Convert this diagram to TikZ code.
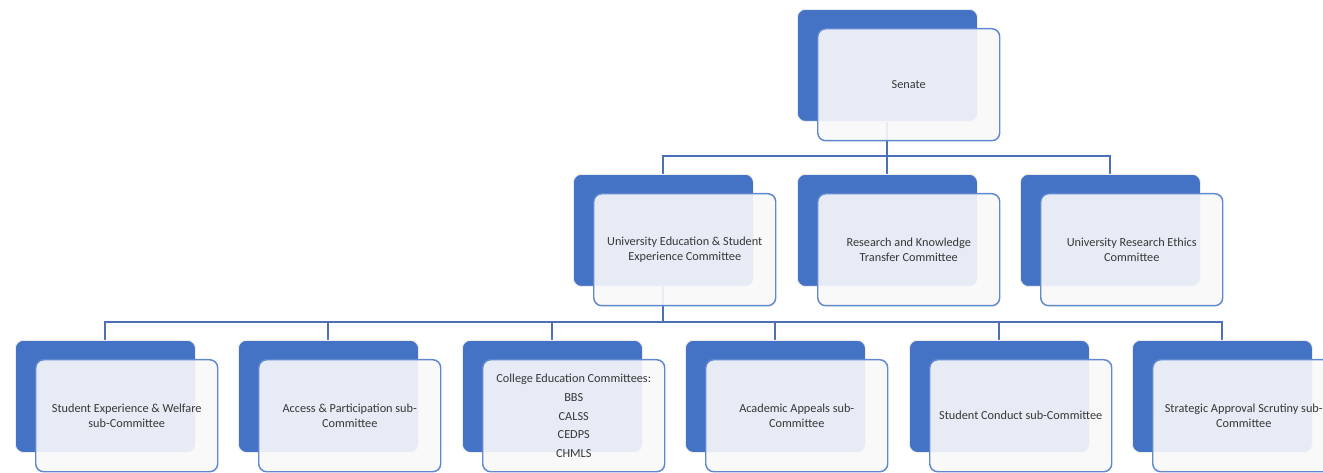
\documentclass[tikz,border=0pt]{standalone}
\usepackage{fontspec}
\setmainfont{Carlito}
\usetikzlibrary{backgrounds}

\definecolor{officeblue}{RGB}{68,114,196}
\definecolor{edgeblue}{RGB}{96,136,206}
\definecolor{lineblue}{RGB}{76,112,184}
\definecolor{paper}{RGB}{248,248,250}
\definecolor{inktext}{RGB}{55,55,55}

\begin{document}
\begin{tikzpicture}[x=0.75pt, y=-0.75pt,
  backbox/.style={anchor=north west, rectangle, rounded corners=6pt,
    fill=officeblue, draw=gray!15, line width=0.6pt,
    minimum width=135pt, minimum height=84pt, inner sep=0pt},
  frontbox/.style={anchor=north west, rectangle, rounded corners=6pt,
    fill=paper, fill opacity=0.91, text opacity=1, draw=edgeblue, line width=1.1pt,
    minimum width=136.5pt, minimum height=84pt, inner sep=2pt, align=center,
    text=inktext, font=\fontsize{9.2}{11.25}\selectfont},
  conn/.style={draw=lineblue, line width=1.4pt}]
  % page
  \useasboundingbox (0,0) rectangle (1323,473);
  % level 1
  \node[backbox] (senateback) at (797,9) {};
  \node[frontbox] (senate) at (817,28) {Senate};
  % level 2
  \node[backbox] (uesecback) at (573,174) {};
  \node[frontbox] (uesec) at (593,193) {University Education \& Student\\Experience Committee};
  \node[backbox] (rktcback) at (797,174) {};
  \node[frontbox] (rktc) at (817,193) {Research and Knowledge\\Transfer Committee};
  \node[backbox] (urecback) at (1020,174) {};
  \node[frontbox] (urec) at (1040,193) {University Research Ethics\\Committee};
  % level 3
  \node[backbox] (sewback) at (15,340) {};
  \node[frontbox] (sew) at (35,359) {Student Experience \& Welfare\\sub-Committee};
  \node[backbox] (apback) at (238,340) {};
  \node[frontbox] (ap) at (258,359) {Access \& Participation sub-\\Committee};
  \node[backbox] (cecback) at (462,340) {};
  \node[frontbox] (cec) at (482,359) {College Education Committees:\\[3pt]BBS\\[2.6pt]CALSS\\[2.6pt]CEDPS\\[2.6pt]CHMLS};
  \node[backbox] (aaback) at (685,340) {};
  \node[frontbox] (aa) at (705,359) {Academic Appeals sub-\\Committee};
  \node[backbox] (scback) at (909,340) {};
  \node[frontbox] (sc) at (929,359) {Student Conduct sub-Committee};
  \node[backbox] (sasback) at (1132,340) {};
  \node[frontbox] (sas) at (1152,359) {Strategic Approval Scrutiny sub-\\Committee};
  % connectors
  \coordinate (bar1) at (0,156);
  \coordinate (bar2) at (0,322);
  \begin{pgfonlayer}{background}
    \draw[conn] (senateback.south) -- (senateback.south |- bar1);
    \draw[conn] (uesecback.north) |- (urecback.north |- bar1) -- (urecback.north);
    \draw[conn] (rktcback.north) -- (rktcback.north |- bar1);
    \draw[conn] (uesecback.south) -- (uesecback.south |- bar2);
    \draw[conn] (sewback.north) |- (sasback.north |- bar2) -- (sasback.north);
    \draw[conn] (apback.north) -- (apback.north |- bar2);
    \draw[conn] (cecback.north) -- (cecback.north |- bar2);
    \draw[conn] (aaback.north) -- (aaback.north |- bar2);
    \draw[conn] (scback.north) -- (scback.north |- bar2);
  \end{pgfonlayer}
\end{tikzpicture}
\end{document}
